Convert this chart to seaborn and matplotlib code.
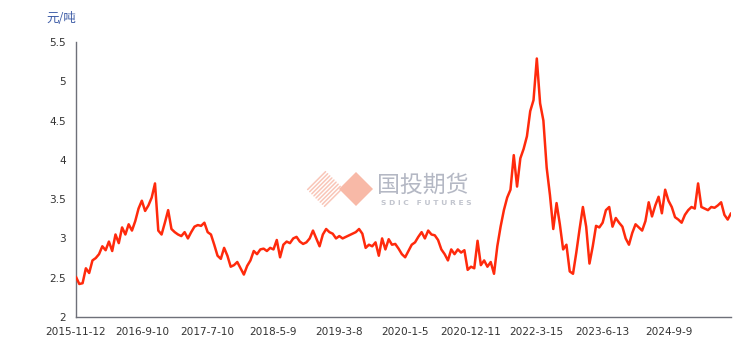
import numpy as np
import pandas as pd
import matplotlib
matplotlib.use("Agg")
import matplotlib.pyplot as plt
import seaborn as sns
from matplotlib.patches import Polygon
from matplotlib.transforms import Affine2D

# ---------------- data ----------------
tick_labels = ["2015-11-12", "2016-9-10", "2017-7-10", "2018-5-9", "2019-3-8",
               "2020-1-5", "2020-12-11", "2022-3-15", "2023-6-13", "2024-9-9"]
points_per_label = 20

price = [
    2.51, 2.42, 2.43, 2.62, 2.56, 2.72, 2.75, 2.80, 2.90, 2.85,
    2.96, 2.84, 3.05, 2.94, 3.14, 3.05, 3.18, 3.10, 3.22, 3.38,
    3.48, 3.35, 3.42, 3.52, 3.70, 3.10, 3.05, 3.20, 3.36, 3.12,
    3.08, 3.05, 3.03, 3.08, 3.00, 3.08, 3.15, 3.17, 3.16, 3.20,
    3.08, 3.05, 2.92, 2.78, 2.74, 2.88, 2.78, 2.64, 2.66, 2.70,
    2.62, 2.54, 2.65, 2.72, 2.84, 2.80, 2.86, 2.87, 2.84, 2.88,
    2.86, 2.98, 2.76, 2.92, 2.96, 2.94, 3.00, 3.02, 2.96, 2.93,
    2.95, 3.00, 3.10, 3.00, 2.90, 3.05, 3.12, 3.08, 3.06, 3.00,
    3.03, 3.00, 3.02, 3.04, 3.06, 3.08, 3.12, 3.06, 2.88, 2.92,
    2.90, 2.95, 2.78, 3.00, 2.86, 2.99, 2.92, 2.93, 2.87, 2.80,
    2.76, 2.84, 2.92, 2.95, 3.02, 3.08, 3.00, 3.10, 3.05, 3.04,
    2.98, 2.86, 2.80, 2.72, 2.86, 2.80, 2.86, 2.82, 2.85, 2.60,
    2.64, 2.62, 2.97, 2.66, 2.72, 2.64, 2.70, 2.55, 2.90, 3.15,
    3.36, 3.52, 3.62, 4.06, 3.66, 4.02, 4.14, 4.30, 4.62, 4.76,
    5.29, 4.72, 4.50, 3.90, 3.55, 3.12, 3.45, 3.18, 2.86, 2.92,
    2.58, 2.55, 2.82, 3.12, 3.40, 3.15, 2.68, 2.90, 3.16, 3.14,
    3.20, 3.36, 3.40, 3.15, 3.26, 3.20, 3.15, 3.00, 2.92, 3.07,
    3.18, 3.14, 3.10, 3.22, 3.46, 3.28, 3.42, 3.53, 3.32, 3.62,
    3.48, 3.40, 3.27, 3.24, 3.20, 3.30, 3.36, 3.40, 3.38, 3.70,
    3.40, 3.38, 3.36, 3.40, 3.39, 3.42, 3.46, 3.30, 3.24, 3.32,
]
y_ticks = [2, 2.5, 3, 3.5, 4, 4.5, 5, 5.5]
y_tick_text = ["2", "2.5", "3", "3.5", "4", "4.5", "5", "5.5"]
unit_label = "元/吨"

df = pd.DataFrame({"idx": np.arange(len(price)), "price": price})

# ---------------- style ----------------
sns.set_style("white")
plt.rcParams["font.family"] = ["DejaVu Sans", "Noto Sans CJK SC"]

W, H = 748, 344
fig = plt.figure(figsize=(W / 100, H / 100), dpi=100)
fig.patch.set_facecolor("white")

L, R, T, B = 76, 731, 42, 317
ax = fig.add_axes([L / W, 1 - B / H, (R - L) / W, (B - T) / H])

# pixel transform (top-left origin) for decorations
px = Affine2D().scale(1 / W, -1 / H).translate(0, 1) + fig.transFigure

# ---- watermark (behind the line) ----
stripe_col = "#F9C6B8"
diamond = Polygon([(356, 172), (373, 189), (356, 206), (339, 189)], closed=True,
                  transform=px, facecolor="#F8B9A7", edgecolor="none", zorder=0)
fig.patches.append(diamond)
# diagonal "////" stripes filling a diamond-shaped zone to the left
cx, cy, hw = 325, 189, 18
for k in range(-4, 5):
    off = k * 4.2
    pts = []
    for t in np.linspace(-hw, hw, 200):
        x = cx + t + off / 2
        y = cy - t + off / 2
        if abs(x - cx) + abs(y - cy) <= hw:
            pts.append((x, y))
    if len(pts) > 1:
        xs, ys = zip(*pts)
        fig.lines.append(plt.Line2D(xs, ys, transform=px, color=stripe_col,
                                    linewidth=1.1, zorder=0))
fig.text(377 / W, 1 - 192 / H, "国投期货", family=["Noto Sans CJK SC"],
         fontsize=16.5, color="#B4B8C4", va="baseline", ha="left")
fig.text(381 / W, 1 - 205 / H, "S D I C   F U T U R E S", fontsize=5.4,
         color="#C2C5CE", va="baseline", ha="left", fontweight="bold")

ax.patch.set_alpha(0)
sns.lineplot(data=df, x="idx", y="price", ax=ax, color="#FF2A0C",
             linewidth=1.8, zorder=3)

ax.set_xlim(0, len(price) - 1)
ax.set_ylim(2, 5.5)
ax.set_xlabel("")
ax.set_ylabel("")

xt = [i * points_per_label for i in range(len(tick_labels))]
ax.set_xticks(xt + [len(price) - 1])
ax.set_xticklabels(tick_labels + [""])
ax.set_yticks(y_ticks)
ax.set_yticklabels(y_tick_text)

for s in ["top", "right"]:
    ax.spines[s].set_visible(False)
for s in ["left", "bottom"]:
    ax.spines[s].set_color("#6E7079")
    ax.spines[s].set_linewidth(1.0)
ax.tick_params(axis="both", which="major", direction="out", length=4,
               width=1.0, color="#6E7079", labelsize=7.6, labelcolor="#333333",
               pad=3)
ax.grid(False)

fig.text(46 / W, 1 - 19 / H, unit_label, family=["Noto Sans CJK SC"],
         fontsize=9, color="#3C5BA6", va="center", ha="left")

fig.savefig("out.png", dpi=100, facecolor="white")
